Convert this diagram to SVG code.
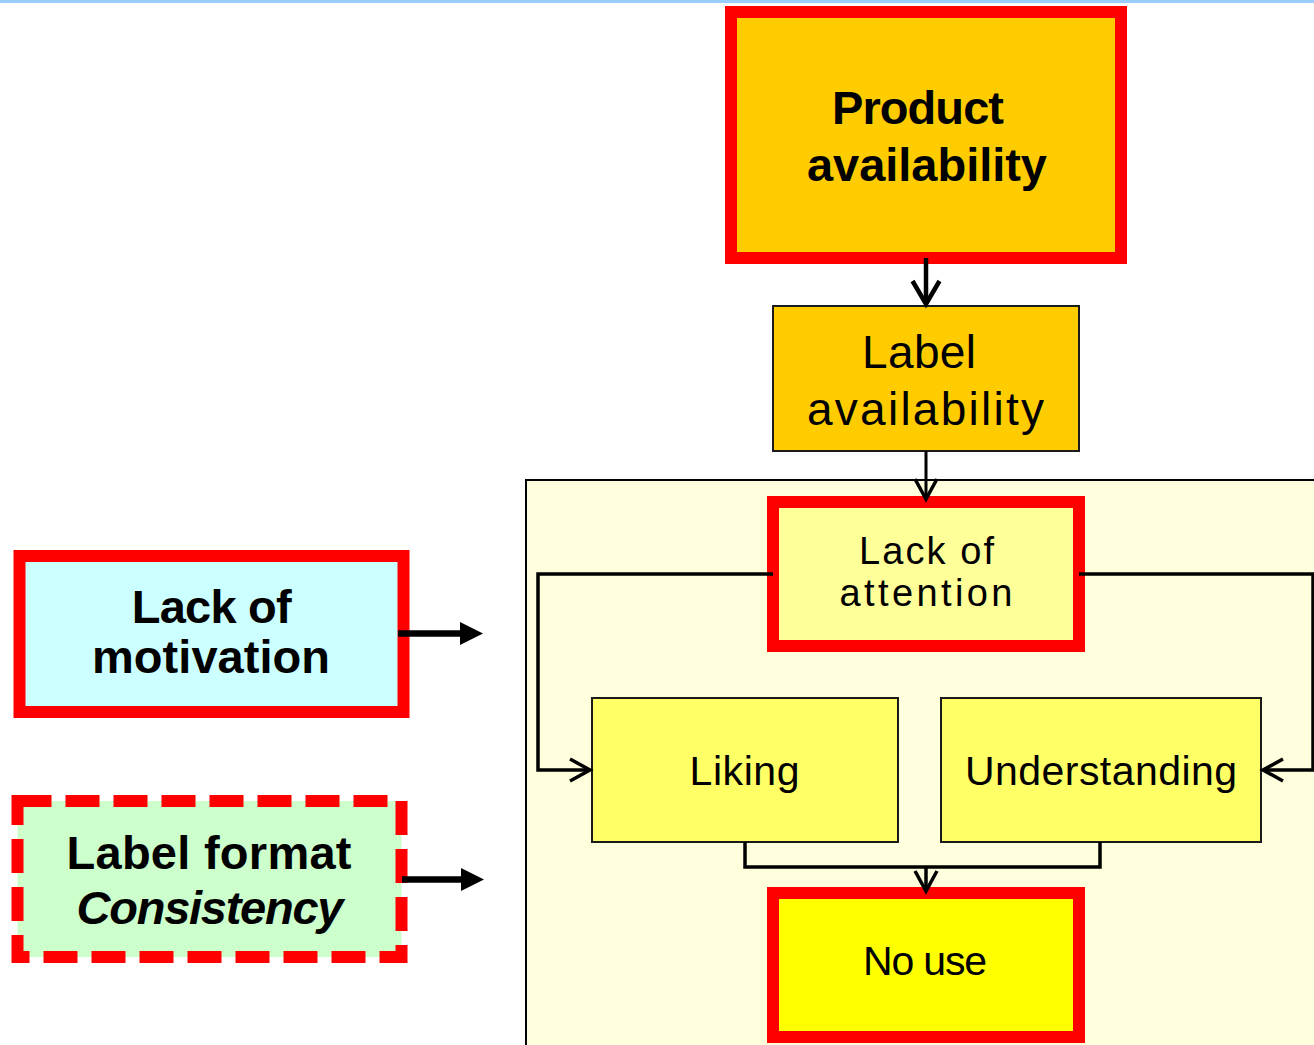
<svg xmlns="http://www.w3.org/2000/svg" width="1314" height="1045" viewBox="0 0 1314 1045">
<style>
text{font-family:"Liberation Sans",Arial,sans-serif;fill:#000;text-anchor:middle}
.b{font-weight:bold;font-size:47px}
.r46{font-size:46px}
.r41{font-size:41px}
.r38{font-size:38px}
.red{stroke:#ff0000;stroke-width:12}
.thin{stroke:#1a1a1a;stroke-width:2}
.con{fill:none;stroke:#000;stroke-linejoin:miter}
</style>
<defs>
<marker id="chevBig" markerUnits="userSpaceOnUse" viewBox="-30 -20 40 40" markerWidth="40" markerHeight="40" refX="0" refY="0" orient="auto" overflow="visible">
<path d="M-23,-13.5 L0,0 L-23,13.5" fill="none" stroke="#000" stroke-width="4.5"/>
</marker>
<marker id="chev" markerUnits="userSpaceOnUse" viewBox="-30 -20 40 40" markerWidth="40" markerHeight="40" refX="0" refY="0" orient="auto" overflow="visible">
<path d="M-20,-11 L0,0 L-20,11" fill="none" stroke="#000" stroke-width="3.5"/>
</marker>
<marker id="tri" markerUnits="userSpaceOnUse" viewBox="-2 -14 28 28" markerWidth="28" markerHeight="28" refX="0" refY="0" orient="auto" overflow="visible">
<path d="M0,-11.5 L23,0 L0,11.5 z" fill="#000"/>
</marker>
</defs>
<rect x="0" y="0" width="1314" height="3" fill="#99ccff"/>
<g id="container">
<rect x="526" y="480" width="800" height="600" fill="#ffffdd" stroke="#000" stroke-width="2"/>
</g>
<g id="product">
<rect x="731" y="12" width="390" height="246" fill="#ffcc00" class="red"/>
<text class="b" x="918" y="124" textLength="172">Product</text>
<text class="b" x="927" y="181" textLength="240">availability</text>
</g>
<g id="label">
<rect x="773" y="306" width="306" height="145" fill="#ffcc00" class="thin"/>
<text class="r46" x="919" y="368" textLength="114">Label</text>
<text class="r46" x="925.5" y="425" textLength="237">availability</text>
</g>
<g id="attention">
<rect x="773" y="502" width="306" height="144" fill="#ffff99" class="red"/>
<text class="r38" x="926.5" y="564" textLength="135">Lack of</text>
<text class="r38" x="926" y="606" textLength="173">attention</text>
</g>
<g id="liking">
<rect x="592" y="698" width="306" height="144" fill="#ffff66" class="thin"/>
<text class="r41" x="744.5" y="785" textLength="110">Liking</text>
</g>
<g id="understanding">
<rect x="941" y="698" width="320" height="144" fill="#ffff66" class="thin"/>
<text class="r41" x="1101" y="785" textLength="272">Understanding</text>
</g>
<g id="nouse">
<rect x="773" y="893" width="306" height="144" fill="#ffff00" class="red"/>
<text class="r41" x="925" y="975" textLength="124">No use</text>
</g>
<g id="motivation">
<rect x="19.5" y="556" width="384" height="156" fill="#ccffff" class="red"/>
<text class="b" x="211.7" y="623" textLength="160">Lack of</text>
<text class="b" x="211" y="673" textLength="238">motivation</text>
</g>
<g id="format">
<rect x="17.5" y="801" width="384" height="156" fill="#ccffcc" class="red" stroke-dasharray="34 14"/>
<text class="b" x="209" y="869" textLength="285">Label format</text>
<text class="b" x="210" y="924" textLength="267" font-style="italic">Consistency</text>
</g>
<g id="connectors">
<path class="con" d="M926,258 V304" stroke-width="4.5" marker-end="url(#chevBig)"/>
<path class="con" d="M926,451 V499" stroke-width="3" marker-end="url(#chev)"/>
<path class="con" d="M773,574 H538 V770 H590" stroke-width="3.5" marker-end="url(#chev)"/>
<path class="con" d="M1079,574 H1313 V770 H1263" stroke-width="3.5" marker-end="url(#chev)"/>
<path class="con" d="M745,842 V867 H1100 V842" stroke-width="3.5"/>
<path class="con" d="M926,867 V891" stroke-width="3.5" marker-end="url(#chev)"/>
<path class="con" d="M398,633.5 H460" stroke-width="6.5" marker-end="url(#tri)"/>
<path class="con" d="M402,879.5 H461" stroke-width="6.5" marker-end="url(#tri)"/>
</g>
</svg>
